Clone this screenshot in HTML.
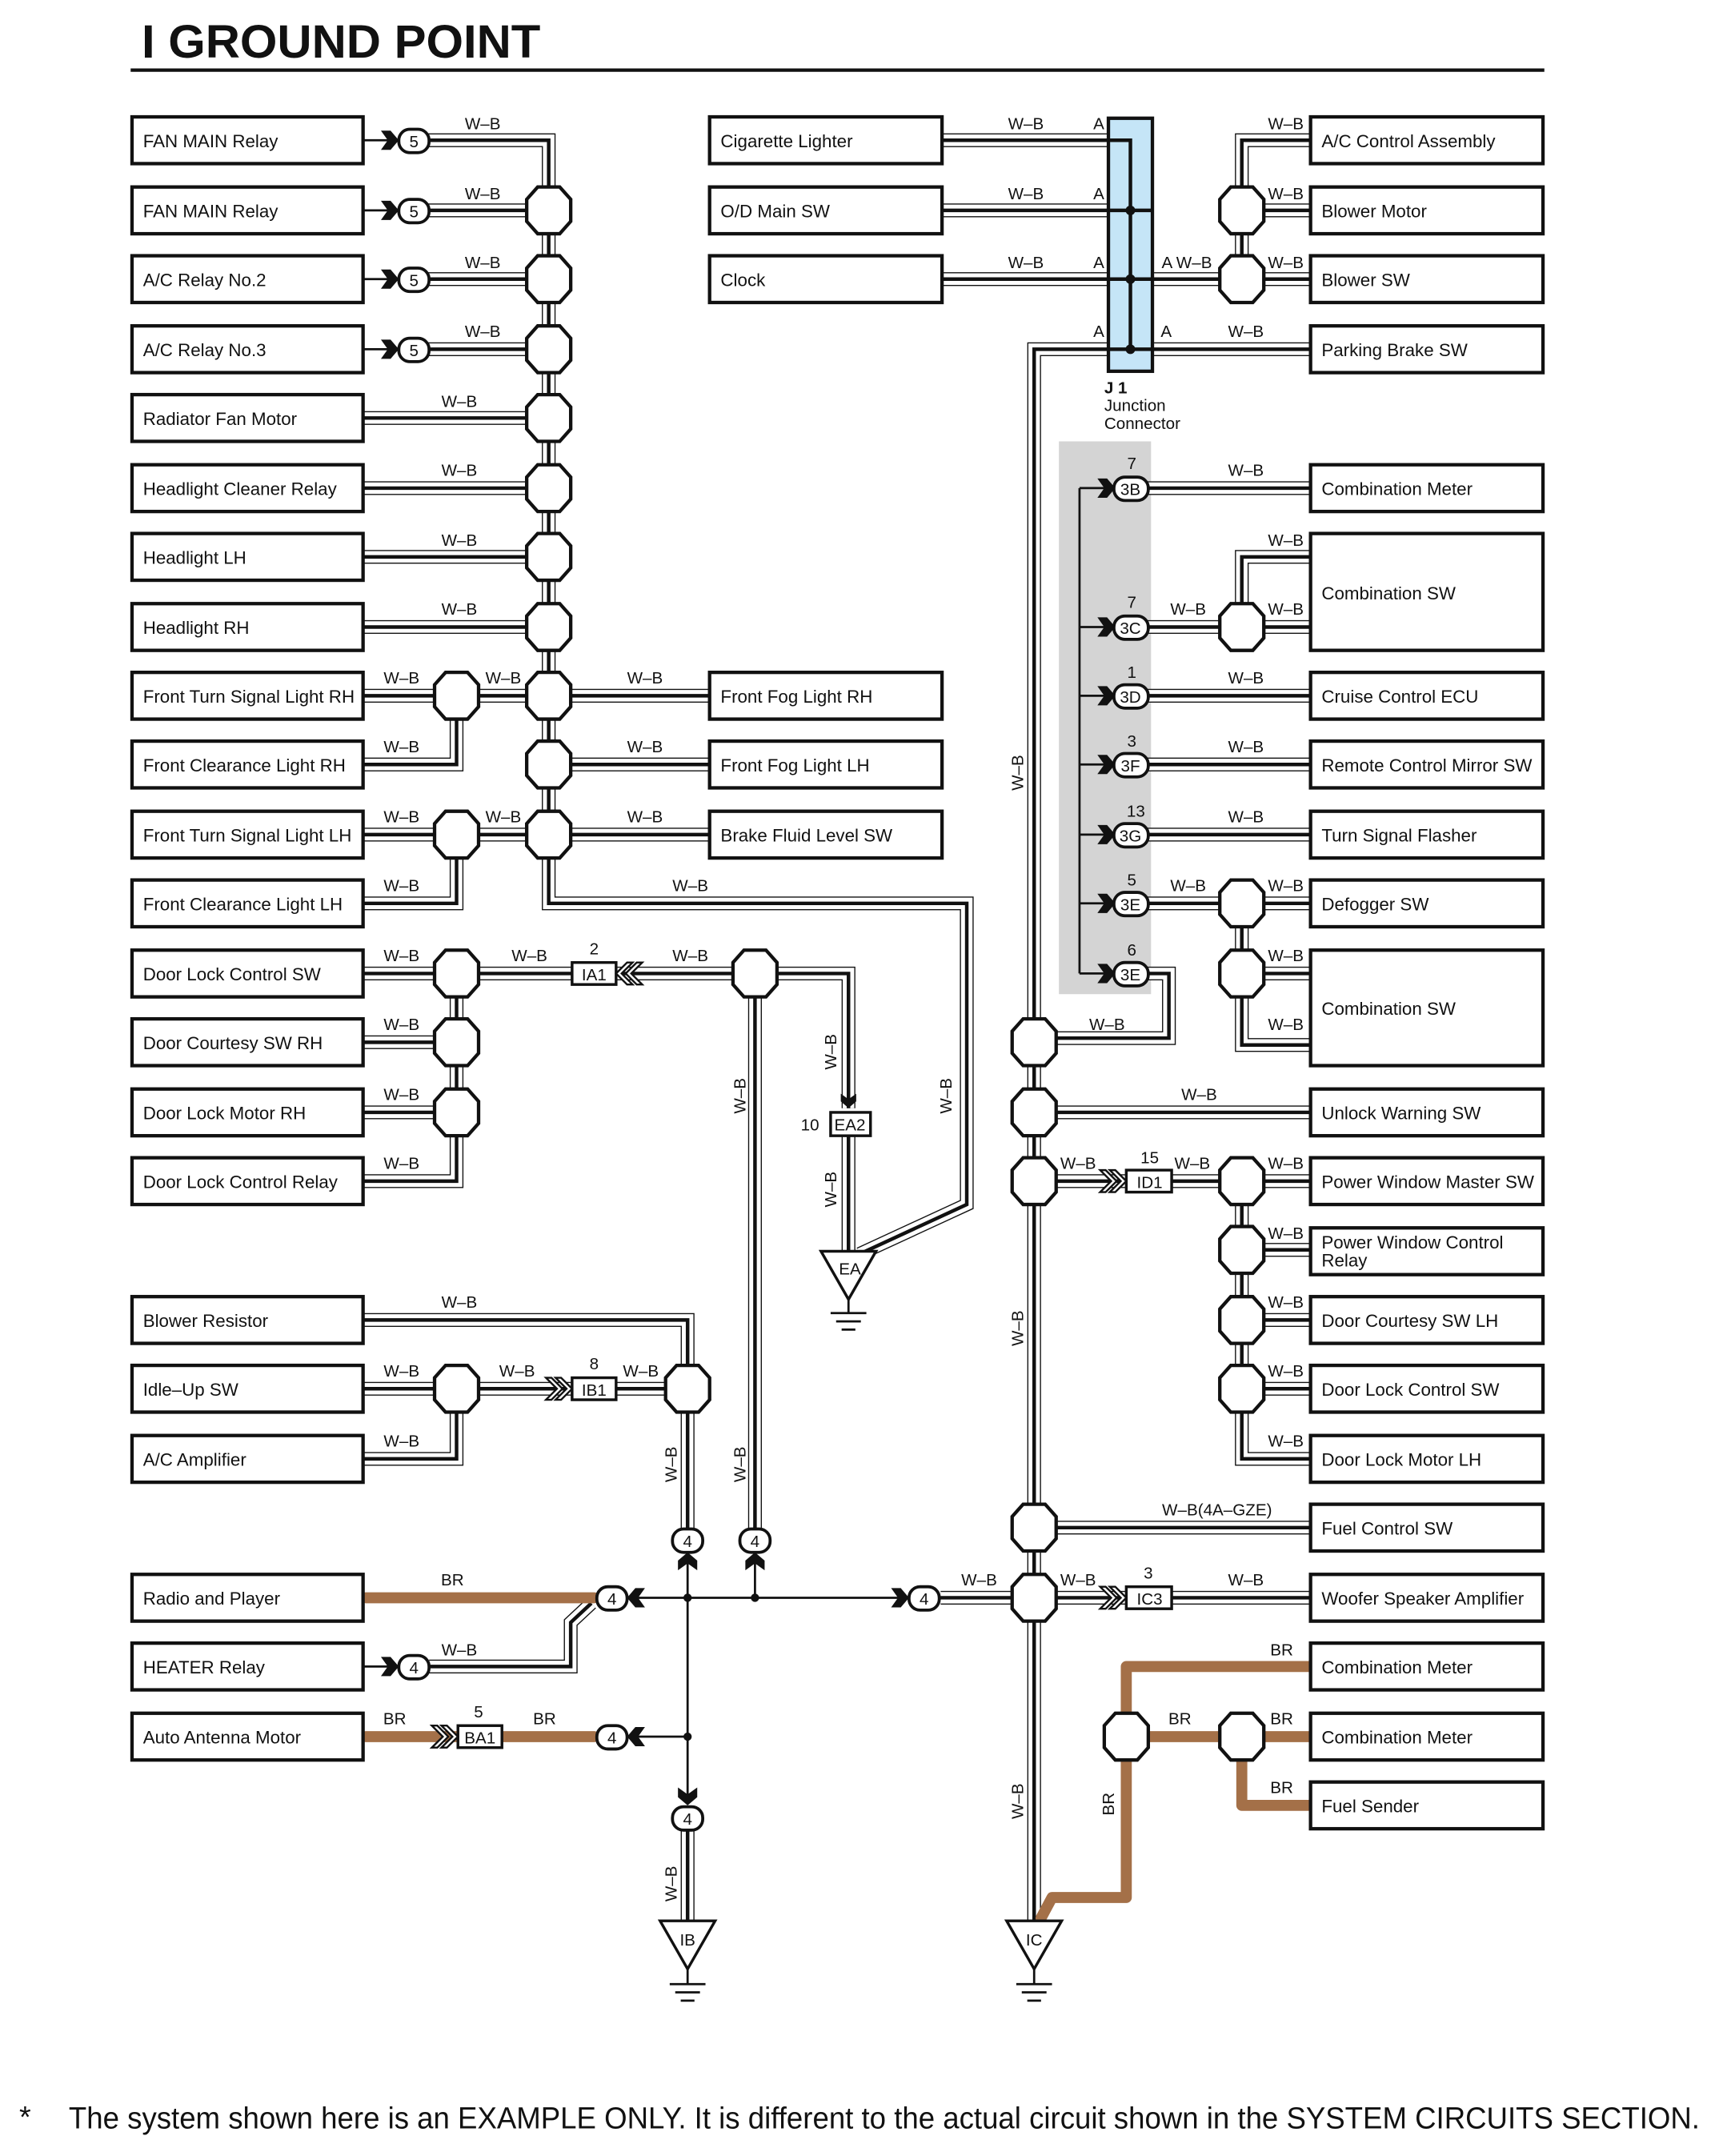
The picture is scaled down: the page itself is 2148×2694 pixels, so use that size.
<!DOCTYPE html>
<html><head><meta charset="utf-8"><style>
html,body{margin:0;padding:0;background:#fff}
svg{display:block}
text{font-family:"Liberation Sans",Arial,sans-serif;fill:#111}
.bl{font-size:13px}
.wl{font-size:12px;text-anchor:middle}
.cn{font-size:12px;text-anchor:middle}
</style></head><body>
<svg width="2148" height="2694" viewBox="0 0 1250 1568" preserveAspectRatio="none" xmlns="http://www.w3.org/2000/svg">
<defs>
<polygon id="oct" points="-16,-8 -8,-17 8,-17 16,-8 16,8 8,17 -8,17 -16,8" fill="#fff" stroke="#111" stroke-width="2.5"/>
<path id="chev" d="M-12,-7 L-5,-7 L1,0 L-5,7 L-12,7 L-7,0 Z" fill="#111"/>
<g id="dchev" fill="#fff" stroke="#111" stroke-width="1.4"><polygon points="-16,-8 -12,-8 -4,0 -12,8 -16,8 -8,0"/><polygon points="-9,-8 -5,-8 3,0 -5,8 -9,8 -1,0"/></g>
<g id="wires" fill="none">
<path d="M301 102 H399 V657 H703 V876 L625 912"/>
<path d="M301 153 H399 M301 203 H399 M301 254 H399"/>
<path d="M264 304 H399 M264 355 H399 M264 405 H399 M264 456 H399"/>
<path d="M264 506 H516 M264 556 H332 V506 M399 556 H516 M264 607 H516 M264 657 H332 V607"/>
<path d="M264 708 H549 M264 758 H332 M264 809 H332 M264 859 H332 V708"/>
<path d="M549 708 H617 V806 M617 826 V912 M549 708 V1112"/>
<path d="M264 960 H500 V1112 M264 1010 H500 M264 1061 H332 V1010"/>
<path d="M312 1212 H415 V1180 L430 1166"/>
<path d="M500 1330 V1398"/>
<path d="M685 102 H806 M685 153 H806 M685 203 H806 M806 254 H752 V1398"/>
<path d="M838 203 H953 M838 254 H953 M953 102 H903 V203 M953 153 H903"/>
<path d="M834 355 H953 M834 456 H953 M953 405 H903 V456 M834 506 H953 M834 556 H953 M834 607 H953"/>
<path d="M834 657 H953 M903 657 V760 H953 M903 708 H953 M834 708 H850 V755 H752"/>
<path d="M752 809 H953 M752 859 H953 M903 859 V1061 H953 M903 909 H953 M903 960 H953 M903 1010 H953"/>
<path d="M752 1111 H953 M684 1162 H953"/>
</g>
</defs>

<text x="103" y="42" font-size="34" font-weight="bold" textLength="290" lengthAdjust="spacingAndGlyphs">I  GROUND POINT</text>
<line x1="95" y1="51" x2="1123" y2="51" stroke="#111" stroke-width="2.5"/>

<rect x="770" y="321" width="67" height="402" fill="#d4d4d4"/>

<use href="#wires" stroke="#111" stroke-width="10"/>
<use href="#wires" stroke="#fff" stroke-width="8.4"/>
<use href="#wires" stroke="#111" stroke-width="2.6"/>

<g stroke="#a47048" stroke-width="8" fill="none" stroke-linecap="round" stroke-linejoin="round">
<path d="M266 1162 H432"/>
<path d="M266 1263 H332 M366 1263 H432"/>
<path d="M953 1212 H819 V1380 H765 L757 1395"/>
<path d="M819 1263 H953 M903 1263 V1313 H953"/>
</g>

<g stroke="#111" stroke-width="1.6" fill="none">
<path d="M460 1162 H655 M500 1135 V1308 M549 1135 V1162 M460 1263 H500"/>
<path d="M785 355 V708 M785 355 H808 M785 456 H808 M785 506 H808 M785 556 H808 M785 607 H808 M785 657 H808 M785 708 H808"/>
<path d="M264 102 H285 M264 153 H285 M264 203 H285 M264 254 H285 M264 1212 H285"/>
</g>
<g fill="#111"><circle cx="500" cy="1162" r="3"/><circle cx="549" cy="1162" r="3"/><circle cx="500" cy="1263" r="3"/></g>

<rect x="806" y="86" width="32" height="184" fill="#c5e5f7" stroke="#111" stroke-width="2.5"/>
<path d="M806 102 H822 V254 M806 153 H838 M806 203 H838 M806 254 H838" stroke="#111" stroke-width="2.6" fill="none"/>
<g fill="#111"><circle cx="822" cy="153" r="3.5"/><circle cx="822" cy="203" r="3.5"/><circle cx="822" cy="254" r="3.5"/></g>
<text x="803" y="286" font-size="12" font-weight="bold">J 1</text>
<text x="803" y="299" font-size="12">Junction</text>
<text x="803" y="312" font-size="12">Connector</text>

<g>
<use href="#oct" x="399" y="153"/><use href="#oct" x="399" y="203"/><use href="#oct" x="399" y="254"/><use href="#oct" x="399" y="304"/>
<use href="#oct" x="399" y="355"/><use href="#oct" x="399" y="405"/><use href="#oct" x="399" y="456"/><use href="#oct" x="399" y="506"/>
<use href="#oct" x="399" y="556"/><use href="#oct" x="399" y="607"/>
<use href="#oct" x="332" y="506"/><use href="#oct" x="332" y="607"/><use href="#oct" x="332" y="708"/><use href="#oct" x="332" y="758"/><use href="#oct" x="332" y="809"/>
<use href="#oct" x="549" y="708"/><use href="#oct" x="332" y="1010"/><use href="#oct" x="500" y="1010"/>
<use href="#oct" x="903" y="153"/><use href="#oct" x="903" y="203"/><use href="#oct" x="903" y="456"/>
<use href="#oct" x="903" y="657"/><use href="#oct" x="903" y="708"/><use href="#oct" x="903" y="859"/><use href="#oct" x="903" y="909"/>
<use href="#oct" x="903" y="960"/><use href="#oct" x="903" y="1010"/>
<use href="#oct" x="752" y="758"/><use href="#oct" x="752" y="809"/><use href="#oct" x="752" y="859"/><use href="#oct" x="752" y="1111"/><use href="#oct" x="752" y="1162"/>
<use href="#oct" x="819" y="1263"/><use href="#oct" x="903" y="1263"/>
</g>

<g fill="#fff" stroke="#111" stroke-width="2.5">
<rect x="96" y="85" width="168" height="34"/><rect x="96" y="136" width="168" height="34"/><rect x="96" y="186" width="168" height="34"/><rect x="96" y="237" width="168" height="34"/>
<rect x="96" y="287" width="168" height="34"/><rect x="96" y="338" width="168" height="34"/><rect x="96" y="388" width="168" height="34"/><rect x="96" y="439" width="168" height="34"/>
<rect x="96" y="489" width="168" height="34"/><rect x="96" y="539" width="168" height="34"/><rect x="96" y="590" width="168" height="34"/><rect x="96" y="640" width="168" height="34"/>
<rect x="96" y="691" width="168" height="34"/><rect x="96" y="741" width="168" height="34"/><rect x="96" y="792" width="168" height="34"/><rect x="96" y="842" width="168" height="34"/>
<rect x="96" y="943" width="168" height="34"/><rect x="96" y="993" width="168" height="34"/><rect x="96" y="1044" width="168" height="34"/>
<rect x="96" y="1145" width="168" height="34"/><rect x="96" y="1195" width="168" height="34"/><rect x="96" y="1246" width="168" height="34"/>
<rect x="516" y="85" width="169" height="34"/><rect x="516" y="136" width="169" height="34"/><rect x="516" y="186" width="169" height="34"/>
<rect x="516" y="489" width="169" height="34"/><rect x="516" y="539" width="169" height="34"/><rect x="516" y="590" width="169" height="34"/>
<rect x="953" y="85" width="169" height="34"/><rect x="953" y="136" width="169" height="34"/><rect x="953" y="186" width="169" height="34"/><rect x="953" y="237" width="169" height="34"/>
<rect x="953" y="338" width="169" height="34"/><rect x="953" y="388" width="169" height="85"/><rect x="953" y="489" width="169" height="34"/><rect x="953" y="539" width="169" height="34"/>
<rect x="953" y="590" width="169" height="34"/><rect x="953" y="640" width="169" height="34"/><rect x="953" y="691" width="169" height="84"/><rect x="953" y="792" width="169" height="34"/>
<rect x="953" y="842" width="169" height="34"/><rect x="953" y="893" width="169" height="34"/><rect x="953" y="943" width="169" height="34"/><rect x="953" y="993" width="169" height="34"/>
<rect x="953" y="1044" width="169" height="34"/><rect x="953" y="1094" width="169" height="34"/><rect x="953" y="1145" width="169" height="34"/><rect x="953" y="1195" width="169" height="34"/>
<rect x="953" y="1246" width="169" height="34"/><rect x="953" y="1296" width="169" height="34"/>
</g>

<g class="bl">
<text x="104" y="107">FAN MAIN Relay</text><text x="104" y="158">FAN MAIN Relay</text><text x="104" y="208">A/C Relay No.2</text><text x="104" y="259">A/C Relay No.3</text>
<text x="104" y="309">Radiator Fan Motor</text><text x="104" y="360">Headlight Cleaner Relay</text><text x="104" y="410">Headlight LH</text><text x="104" y="461">Headlight RH</text>
<text x="104" y="511">Front Turn Signal Light RH</text><text x="104" y="561">Front Clearance Light RH</text><text x="104" y="612">Front Turn Signal Light LH</text><text x="104" y="662">Front Clearance Light LH</text>
<text x="104" y="713">Door Lock Control SW</text><text x="104" y="763">Door Courtesy SW RH</text><text x="104" y="814">Door Lock Motor RH</text><text x="104" y="864">Door Lock Control Relay</text>
<text x="104" y="965">Blower Resistor</text><text x="104" y="1015">Idle–Up SW</text><text x="104" y="1066">A/C Amplifier</text>
<text x="104" y="1167">Radio and Player</text><text x="104" y="1217">HEATER Relay</text><text x="104" y="1268">Auto Antenna Motor</text>
<text x="524" y="107">Cigarette Lighter</text><text x="524" y="158">O/D Main SW</text><text x="524" y="208">Clock</text>
<text x="524" y="511">Front Fog Light RH</text><text x="524" y="561">Front Fog Light LH</text><text x="524" y="612">Brake Fluid Level SW</text>
<text x="961" y="107">A/C Control Assembly</text><text x="961" y="158">Blower Motor</text><text x="961" y="208">Blower SW</text><text x="961" y="259">Parking Brake SW</text>
<text x="961" y="360">Combination Meter</text><text x="961" y="436">Combination SW</text><text x="961" y="511">Cruise Control ECU</text><text x="961" y="561">Remote Control Mirror SW</text>
<text x="961" y="612">Turn Signal Flasher</text><text x="961" y="662">Defogger SW</text><text x="961" y="738">Combination SW</text><text x="961" y="814">Unlock Warning SW</text>
<text x="961" y="864">Power Window Master SW</text><text x="961" y="908">Power Window Control</text><text x="961" y="921">Relay</text>
<text x="961" y="965">Door Courtesy SW LH</text><text x="961" y="1015">Door Lock Control SW</text><text x="961" y="1066">Door Lock Motor LH</text>
<text x="961" y="1116">Fuel Control SW</text><text x="961" y="1167">Woofer Speaker Amplifier</text><text x="961" y="1217">Combination Meter</text>
<text x="961" y="1268">Combination Meter</text><text x="961" y="1318">Fuel Sender</text>
</g>

<use href="#chev" x="289" y="102"/><use href="#chev" x="289" y="153"/><use href="#chev" x="289" y="203"/><use href="#chev" x="289" y="254"/><use href="#chev" x="289" y="1212"/>
<g><use href="#chev" x="810" y="355"/><use href="#chev" x="810" y="456"/><use href="#chev" x="810" y="506"/><use href="#chev" x="810" y="556"/><use href="#chev" x="810" y="607"/><use href="#chev" x="810" y="657"/><use href="#chev" x="810" y="708"/></g>
<use href="#chev" x="660" y="1162"/>
<use href="#chev" transform="translate(457 1162) rotate(180)"/>
<use href="#chev" transform="translate(457 1263) rotate(180)"/>
<use href="#chev" transform="translate(500 1130) rotate(-90)"/>
<use href="#chev" transform="translate(549 1130) rotate(-90)"/>
<use href="#chev" transform="translate(500 1312) rotate(90)"/>
<use href="#chev" transform="translate(617 805) rotate(90) scale(0.8)"/>

<g fill="#fff" stroke="#111" stroke-width="2.2">
<rect x="290" y="94" width="22" height="17" rx="8"/><rect x="290" y="145" width="22" height="17" rx="8"/><rect x="290" y="195" width="22" height="17" rx="8"/><rect x="290" y="246" width="22" height="17" rx="8"/>
<rect x="290" y="1204" width="22" height="17" rx="8"/>
<rect x="434" y="1154" width="22" height="17" rx="8"/><rect x="434" y="1255" width="22" height="17" rx="8"/>
<rect x="489" y="1112" width="22" height="17" rx="8"/><rect x="538" y="1112" width="22" height="17" rx="8"/><rect x="489" y="1314" width="22" height="17" rx="8"/>
<rect x="661" y="1154" width="22" height="17" rx="8"/>
<rect x="810" y="347" width="25" height="17" rx="8"/><rect x="810" y="448" width="25" height="17" rx="8"/><rect x="810" y="498" width="25" height="17" rx="8"/><rect x="810" y="548" width="25" height="17" rx="8"/>
<rect x="810" y="599" width="25" height="17" rx="8"/><rect x="810" y="649" width="25" height="17" rx="8"/><rect x="810" y="700" width="25" height="17" rx="8"/>
</g>
<g class="cn">
<text x="301" y="107">5</text><text x="301" y="158">5</text><text x="301" y="208">5</text><text x="301" y="259">5</text><text x="301" y="1217">4</text>
<text x="445" y="1167">4</text><text x="445" y="1268">4</text><text x="500" y="1125">4</text><text x="549" y="1125">4</text><text x="500" y="1327">4</text><text x="672" y="1167">4</text>
<text x="822" y="360">3B</text><text x="822" y="461">3C</text><text x="822" y="511">3D</text><text x="822" y="561">3F</text><text x="822" y="612">3G</text><text x="822" y="662">3E</text><text x="822" y="713">3E</text>
<text x="823" y="341">7</text><text x="823" y="442">7</text><text x="823" y="493">1</text><text x="823" y="543">3</text><text x="826" y="594">13</text><text x="823" y="644">5</text><text x="823" y="695">6</text>
</g>

<g fill="#fff" stroke="#111" stroke-width="2">
<rect x="416" y="700" width="32" height="16"/><rect x="416" y="1002" width="32" height="16"/><rect x="333" y="1255" width="32" height="16"/>
<rect x="604" y="809" width="29" height="17"/><rect x="819" y="851" width="33" height="16"/><rect x="819" y="1154" width="33" height="16"/>
</g>
<use href="#dchev" x="413" y="1010"/><use href="#dchev" x="330" y="1263"/><use href="#dchev" x="816" y="859"/><use href="#dchev" x="816" y="1162"/>
<use href="#dchev" transform="translate(451 708) rotate(180)"/>
<g class="cn">
<text x="432" y="713">IA1</text><text x="432" y="1015">IB1</text><text x="349" y="1268">BA1</text><text x="618" y="822">EA2</text><text x="836" y="864">ID1</text><text x="836" y="1167">IC3</text>
<text x="432" y="694">2</text><text x="432" y="996">8</text><text x="348" y="1249">5</text><text x="589" y="822">10</text><text x="836" y="846">15</text><text x="835" y="1148">3</text>
</g>

<g fill="#fff" stroke="#111" stroke-width="2">
<polygon points="597,910 637,910 617,945"/>
<polygon points="480,1397 520,1397 500,1432"/>
<polygon points="732,1397 772,1397 752,1432"/>
</g>
<g stroke="#111" stroke-width="1.6">
<path d="M617 945 V955 M604 955 H630 M608 961 H626 M612 967 H622"/>
<path d="M500 1432 V1443 M487 1443 H513 M491 1449 H509 M495 1455 H505"/>
<path d="M752 1432 V1443 M739 1443 H765 M743 1449 H761 M747 1455 H757"/>
</g>
<g class="cn"><text x="618" y="927">EA</text><text x="500" y="1415">IB</text><text x="752" y="1415">IC</text></g>

<g class="wl">
<text x="351" y="94">W–B</text><text x="351" y="145">W–B</text><text x="351" y="195">W–B</text><text x="351" y="245">W–B</text>
<text x="334" y="296">W–B</text><text x="334" y="346">W–B</text><text x="334" y="397">W–B</text><text x="334" y="447">W–B</text>
<text x="292" y="497">W–B</text><text x="366" y="497">W–B</text><text x="469" y="497">W–B</text>
<text x="292" y="547">W–B</text><text x="469" y="547">W–B</text>
<text x="292" y="598">W–B</text><text x="366" y="598">W–B</text><text x="469" y="598">W–B</text>
<text x="292" y="648">W–B</text><text x="502" y="648">W–B</text>
<text x="292" y="699">W–B</text><text x="385" y="699">W–B</text><text x="502" y="699">W–B</text>
<text x="292" y="749">W–B</text><text x="292" y="800">W–B</text><text x="292" y="850">W–B</text>
<text x="334" y="951">W–B</text><text x="292" y="1001">W–B</text><text x="376" y="1001">W–B</text><text x="466" y="1001">W–B</text><text x="292" y="1052">W–B</text>
<text x="329" y="1153">BR</text><text x="334" y="1204">W–B</text><text x="287" y="1254">BR</text><text x="396" y="1254">BR</text>
<text x="746" y="94">W–B</text><text x="799" y="94">A</text><text x="746" y="145">W–B</text><text x="799" y="145">A</text><text x="746" y="195">W–B</text><text x="799" y="195">A</text>
<text x="863" y="195">A W–B</text><text x="799" y="245">A</text><text x="848" y="245">A</text><text x="906" y="245">W–B</text>
<text x="935" y="94">W–B</text><text x="935" y="145">W–B</text><text x="935" y="195">W–B</text>
<text x="906" y="346">W–B</text><text x="935" y="397">W–B</text><text x="864" y="447">W–B</text><text x="935" y="447">W–B</text>
<text x="906" y="497">W–B</text><text x="906" y="547">W–B</text><text x="906" y="598">W–B</text>
<text x="864" y="648">W–B</text><text x="935" y="648">W–B</text><text x="935" y="699">W–B</text><text x="805" y="749">W–B</text><text x="935" y="749">W–B</text>
<text x="872" y="800">W–B</text><text x="784" y="850">W–B</text><text x="867" y="850">W–B</text><text x="935" y="850">W–B</text>
<text x="935" y="901">W–B</text><text x="935" y="951">W–B</text><text x="935" y="1001">W–B</text><text x="935" y="1052">W–B</text>
<text x="885" y="1102">W–B(4A–GZE)</text>
<text x="712" y="1153">W–B</text><text x="784" y="1153">W–B</text><text x="906" y="1153">W–B</text>
<text x="932" y="1204">BR</text><text x="858" y="1254">BR</text><text x="932" y="1254">BR</text><text x="932" y="1304">BR</text>
</g>
<g class="wl">
<text transform="translate(542 797) rotate(-90)">W–B</text>
<text transform="translate(608 765) rotate(-90)">W–B</text>
<text transform="translate(608 865) rotate(-90)">W–B</text>
<text transform="translate(692 797) rotate(-90)">W–B</text>
<text transform="translate(492 1065) rotate(-90)">W–B</text>
<text transform="translate(542 1065) rotate(-90)">W–B</text>
<text transform="translate(492 1370) rotate(-90)">W–B</text>
<text transform="translate(744 562) rotate(-90)">W–B</text>
<text transform="translate(744 966) rotate(-90)">W–B</text>
<text transform="translate(744 1310) rotate(-90)">W–B</text>
<text transform="translate(810 1312) rotate(-90)">BR</text>
</g>

<text x="14" y="1547" font-size="22">*</text>
<text x="50" y="1548" font-size="22" textLength="1186" lengthAdjust="spacingAndGlyphs">The system shown here is an EXAMPLE ONLY. It is different to the actual circuit shown in the SYSTEM CIRCUITS SECTION.</text>
</svg>
</body></html>
